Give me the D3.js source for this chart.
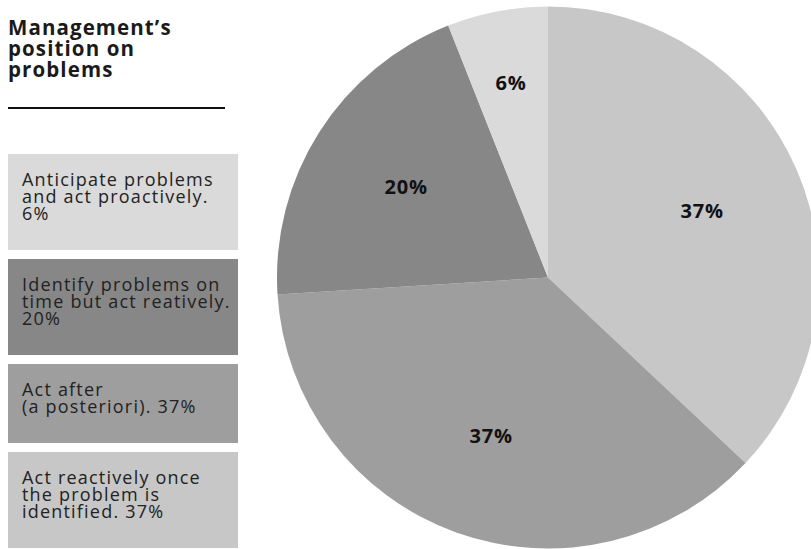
<!DOCTYPE html>
<html>
<head>
<meta charset="utf-8">
<script src="https://cdn.jsdelivr.net/npm/d3@7"></script>
<style>
  html, body { margin: 0; padding: 0; background: #fff; }
  svg { display: block; font-family: "Open Sans", Lato, sans-serif; }
</style>
</head>
<body>
<svg id="chart" width="811" height="549"></svg>
<script>
// Answers, listed in legend order (top to bottom)
const categories = [
  "Anticipate problems and act proactively.",
  "Identify problems on time but act reatively.",
  "Act after (a posteriori).",
  "Act reactively once the problem is identified."
];
const values = [6, 20, 37, 37];
// Legend wording, broken into lines
const legendLines = [
  ["Anticipate problems", "and act proactively.", "6%"],
  ["Identify problems on", "time but act reatively.", "20%"],
  ["Act after", "(a posteriori). 37%"],
  ["Act reactively once", "the problem is", "identified. 37%"]
];
const colors = ["#d9dad9", "#878787", "#9e9e9e", "#c6c7c6"];
const titleLines = ["Management’s", "position on", "problems"];

const svg = d3.select("#chart");

// ---- Title and rule ----
const title = svg.append("text")
  .attr("x", 8).attr("y", 35)
  .attr("fill", "#1a1a1a")
  .attr("font-size", 20.5)
  .attr("font-weight", 700)
  .attr("letter-spacing", 1.1);
titleLines.forEach((t, i) => {
  title.append("tspan").attr("x", 8).attr("dy", i === 0 ? 0 : 21).text(t);
});
svg.append("line")
  .attr("x1", 8).attr("x2", 225)
  .attr("y1", 108).attr("y2", 108)
  .attr("stroke", "#111").attr("stroke-width", 2);

// ---- Legend boxes ----
const lineH = 17;
let boxTop = 154;
legendLines.forEach((lines, i) => {
  const h = lines.length * lineH + 45;
  const g = svg.append("g").attr("transform", `translate(8,${boxTop})`);
  g.append("rect").attr("width", 230).attr("height", h).attr("fill", colors[i]);
  const t = g.append("text")
    .attr("x", 14).attr("y", 32)
    .attr("fill", "#222")
    .attr("font-size", 18)
    .attr("letter-spacing", 1.2);
  lines.forEach((l, j) => {
    t.append("tspan").attr("x", 14).attr("dy", j === 0 ? 0 : lineH).text(l);
  });
  boxTop += h + 9;
});

// ---- Pie ----
const cx = 548, cy = 277.5, radius = 271;
const slices = categories.map((c, i) => ({ name: c, value: values[i], color: colors[i] })).reverse();

const pie = d3.pie().value(d => d.value).sort(null);
const arc = d3.arc().innerRadius(0).outerRadius(radius);
const arcs = pie(slices);

const pg = svg.append("g").attr("transform", `translate(${cx},${cy})`);
pg.selectAll("path.slice")
  .data(arcs)
  .join("path")
  .attr("class", "slice")
  .attr("d", arc)
  .attr("fill", d => d.data.color);

// Labels sit around 62% of the radius; thin slices push them further out
const labelPos = d => {
  const r = (d.endAngle - d.startAngle) < 0.6 ? radius * 0.73 : radius * 0.62;
  return d3.arc().innerRadius(r).outerRadius(r).centroid(d);
};
pg.selectAll("text.pct")
  .data(arcs)
  .join("text")
  .attr("class", "pct")
  .attr("transform", d => `translate(${labelPos(d)})`)
  .attr("text-anchor", "middle")
  .attr("dy", "0.35em")
  .attr("font-size", 20)
  .attr("font-weight", 700)
  .attr("letter-spacing", 0.8)
  .attr("fill", "#111")
  .text(d => d.data.value + "%");
</script>
</body>
</html>
